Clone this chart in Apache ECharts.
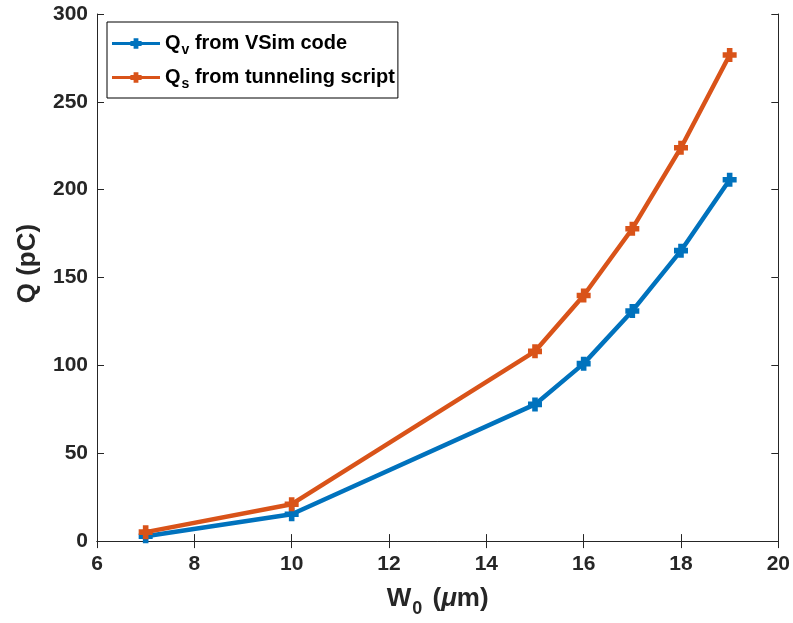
<!DOCTYPE html>
<html>
<head>
<meta charset="utf-8">
<script src="https://cdn.jsdelivr.net/npm/echarts@6/dist/echarts.min.js"></script>
<style>
  html, body { margin: 0; padding: 0; background: #fff; }
  #chart { width: 793px; height: 623px; }
</style>
</head>
<body>
<div id="chart"></div>
<script>
// Beam waist W0 (µm) and collected charge Q (pC)
const waist = [7, 10, 15, 16, 17, 18, 19];
const chargeVSim = [2.8, 15.3, 77.8, 101, 131, 165.3, 205.7];
const chargeTunnel = [5.1, 21, 108, 139.8, 177.8, 223.9, 276.7];
const xTicks = [6, 8, 10, 12, 14, 16, 18, 20];
const yTicks = [0, 50, 100, 150, 200, 250, 300];

const BLUE = '#0072BD';
const ORANGE = '#D95319';
const INK = '#262626';
const FONT = '"Liberation Sans", Arial, Helvetica, sans-serif';

const plusMarker = 'path://M-1.2,-3 L1.2,-3 L1.2,-1.2 L3,-1.2 L3,1.2 L1.2,1.2 L1.2,3 L-1.2,3 L-1.2,1.2 L-3,1.2 L-3,-1.2 L-1.2,-1.2 Z';
const legendIcon = 'path://M0,5 L23,5 L23,4 L27,4 L27,0.5 L33,0.5 L33,4 L37,4 L37,5 L60,5 L60,9 L37,9 L37,10 L33,10 L33,13.5 L27,13.5 L27,10 L23,10 L23,9 L0,9 Z';

const chart = echarts.init(document.getElementById('chart'), null, { renderer: 'canvas' });

const axisCommon = {
  axisLine: { show: true, lineStyle: { color: INK, width: 1 } },
  axisTick: { show: true, inside: true, length: 7, lineStyle: { color: INK, width: 1 } },
  splitLine: { show: false }
};

const option = {
  backgroundColor: '#fff',
  animation: false,
  textStyle: { fontFamily: FONT },
  grid: { left: 97, right: 14, top: 14, bottom: 81, containLabel: false },
  legend: {
    orient: 'vertical',
    left: 107,
    top: 22,
    padding: [8, 3, 7, 5],
    itemGap: 7,
    itemWidth: 48,
    itemHeight: 14,
    borderColor: '#000',
    borderWidth: 1,
    backgroundColor: '#fff',
    data: [
      { name: 'v', icon: legendIcon },
      { name: 's', icon: legendIcon }
    ],
    formatter: function (name) {
      const rest = name === 'v' ? ' from VSim code' : ' from tunneling script';
      return '{b|Q}{sub|' + name + '}{b|' + rest + '}';
    },
    textStyle: {
      fontFamily: FONT,
      rich: {
        b: { fontSize: 20, fontWeight: 'bold', color: '#000', fontFamily: FONT, lineHeight: 22 },
        sub: { fontSize: 14, fontWeight: 'bold', color: '#000', fontFamily: FONT, padding: [13, 0, 0, 1], lineHeight: 18 }
      }
    }
  },
  xAxis: [
    Object.assign({}, axisCommon, {
      type: 'value', min: 6, max: 20, interval: 2,
      axisLabel: { color: INK, fontSize: 21, fontWeight: 'bold', fontFamily: FONT, margin: 13 },
      name: '{b|W}{sub|0}{b| (}{mu|μ}{b|m)}',
      nameLocation: 'middle', nameGap: 41,
      nameTextStyle: {
        rich: {
          b: { fontSize: 26, fontWeight: 'bold', color: INK, fontFamily: FONT, lineHeight: 30 },
          sub: { fontSize: 18, fontWeight: 'bold', color: INK, fontFamily: FONT, padding: [20, 3, 0, 1], lineHeight: 24 },
          mu: { fontSize: 26, fontWeight: 'bold', fontStyle: 'italic', color: INK, fontFamily: FONT, lineHeight: 30 }
        }
      }
    }),
    Object.assign({}, axisCommon, {
      type: 'value', min: 6, max: 20, interval: 2, position: 'top',
      axisLabel: { show: false }
    })
  ],
  yAxis: [
    Object.assign({}, axisCommon, {
      type: 'value', min: 0, max: 300, interval: 50,
      axisLabel: { color: INK, fontSize: 21, fontWeight: 'bold', fontFamily: FONT, margin: 9 },
      name: 'Q (pC)', nameLocation: 'middle', nameGap: 56,
      nameTextStyle: { fontSize: 26, fontWeight: 'bold', color: INK, fontFamily: FONT, padding: [0, 0, 0, 28] }
    }),
    Object.assign({}, axisCommon, {
      type: 'value', min: 0, max: 300, interval: 50, position: 'right',
      axisLabel: { show: false }
    })
  ],
  series: [
    {
      name: 'v', type: 'line', xAxisIndex: 0, yAxisIndex: 0,
      data: waist.map((w, i) => [w, chargeVSim[i]]),
      lineStyle: { color: BLUE, width: 4.5 },
      itemStyle: { color: BLUE },
      symbol: plusMarker, symbolSize: 14, showAllSymbol: true
    },
    {
      name: 's', type: 'line', xAxisIndex: 0, yAxisIndex: 0,
      data: waist.map((w, i) => [w, chargeTunnel[i]]),
      lineStyle: { color: ORANGE, width: 4.5 },
      itemStyle: { color: ORANGE },
      symbol: plusMarker, symbolSize: 14, showAllSymbol: true
    }
  ]
};

chart.setOption(option);
</script>
</body>
</html>
